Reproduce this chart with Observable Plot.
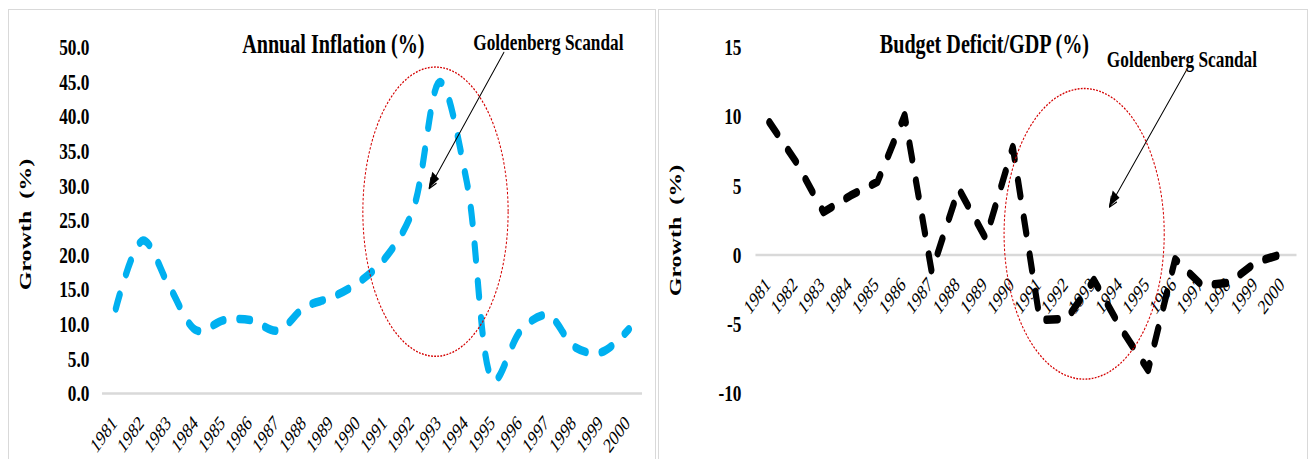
<!DOCTYPE html>
<html><head><meta charset="utf-8">
<script src="https://cdn.jsdelivr.net/npm/d3@7"></script>
<script src="https://cdn.jsdelivr.net/npm/@observablehq/plot@0.6"></script>
<style>
html,body{margin:0;padding:0;background:#fff;overflow:hidden;width:1311px;height:459px;}
.panel{position:absolute;top:9px;height:470px;border:1px solid #d9d9d9;box-sizing:border-box;background:#fff;overflow:hidden;}
.panel svg{display:block;}
</style></head><body>
<div id="left" class="panel" style="left:8px;width:648px"></div>
<div id="right" class="panel" style="left:658px;width:650px"></div>
<script>
// ---- data ----
const years = [1981,1982,1983,1984,1985,1986,1987,1988,1989,1990,1991,1992,1993,1994,1995,1996,1997,1998,1999,2000];
const inflation = [12.3,22.1,15.3,9.1,10.6,10.6,9.1,12.5,13.9,16.1,19.7,26.5,45.0,30.5,1.9,9.1,11.3,6.7,6.0,9.3];
const deficit = [9.6,6.7,3.1,4.3,5.3,10.1,-1.2,4.8,1.2,7.8,-4.7,-4.6,-1.8,-5.3,-8.3,-0.3,-2.2,-2.0,-0.5,0.1];
const inflationTicks = [0,5,10,15,20,25,30,35,40,45,50];
const deficitTicks = [-10,-5,0,5,10,15];
const titles = ["Annual Inflation (%)", "Budget Deficit/GDP (%)"];
const annotationText = "Goldenberg Scandal";
const axisLabel = "Growth  (%)";
// annotation anchors in data space
const inflArrow = [{x1: 1995.37, y1: 49.3, x2: 1992.6, y2: 29.6}];
const defArrow = [{x1: 1996.4, y1: 13.3, x2: 1993.57, y2: 3.46}];
const inflEllipse = {year: 1992.85, value: 26.2, rYears: 2.69, rValue: 20.9};
const defEllipse = {year: 1992.65, value: 1.5, rYears: 2.96, rValue: 10.5};

const S = 0.72; // horizontal compression of the reference picture
const FONT = "'Liberation Serif', 'Times New Roman', serif";

function build(cfg) {
  const W = cfg.realWidth / S, H = 450;
  const rows = years.map((y, i) => ({year: y, value: cfg.values[i]}));
  const frameCenter = (cfg.ml + (W - cfg.mr)) / 2;
  const plot = Plot.plot({
    width: W, height: H,
    marginLeft: cfg.ml, marginRight: cfg.mr, marginTop: 37, marginBottom: 67,
    x: {type: "linear", domain: [1980.5, 2000.5], axis: null},
    y: {domain: cfg.yDomain, axis: null},
    style: {fontFamily: FONT, background: "white", whiteSpace: "pre", color: "black", overflow: "visible"},
    marks: [
      Plot.ruleY([0], {stroke: "#d9d9d9", strokeWidth: 2.5}),
      Plot.text(cfg.yTicks, {y: d => d, text: cfg.fmt, frameAnchor: "left", textAnchor: "end", dx: -cfg.tickDx, fontSize: 24, fontWeight: "bold", fill: "black"}),
      Plot.text(years, {x: d => d, y: 0, text: d => String(d), rotate: -45, textAnchor: "end", dx: -2, dy: 26, fontSize: 21, fill: "black"}),
      Plot.line(rows, {x: "year", y: "value", stroke: cfg.color, strokeWidth: cfg.sw, strokeDasharray: cfg.dash, strokeLinecap: "round", strokeLinejoin: "round", curve: cfg.curve}),
      Plot.text([cfg.title], {frameAnchor: "top", textAnchor: "middle", lineAnchor: "middle", dx: cfg.titleDx - frameCenter, dy: -3, fontSize: 28, fontWeight: "bold", fill: "black"}),
      Plot.text([annotationText], {frameAnchor: "top", textAnchor: "middle", lineAnchor: "middle", dx: cfg.annDx - frameCenter, dy: cfg.annDy, fontSize: 24, fontWeight: "bold", fill: "black"}),
      Plot.text([axisLabel], {frameAnchor: "left", textAnchor: "middle", lineAnchor: "middle", rotate: -90, dx: cfg.labelX - cfg.ml, dy: cfg.labelDy, fontSize: 24, fontWeight: "bold", fill: "black"}),
      Plot.arrow(cfg.arrow, {x1: "x1", y1: "y1", x2: "x2", y2: "y2", stroke: "black", strokeWidth: 1.3, headLength: 13, headAngle: 50})
    ]
  });
  // ellipse annotation drawn through the plot's scales
  const xs = plot.scale("x"), ys = plot.scale("y");
  const e = cfg.ellipse;
  const cx = xs.apply(e.year), cy = ys.apply(e.value);
  const rx = xs.apply(e.year + e.rYears) - cx, ry = cy - ys.apply(e.value + e.rValue);
  d3.select(plot).append("ellipse")
    .attr("cx", cx).attr("cy", cy).attr("rx", rx).attr("ry", ry)
    .attr("fill", "none").attr("stroke", "#d40000").attr("stroke-width", 1.4)
    .attr("stroke-dasharray", "2.5,1.8");
  // filled arrowhead at the arrow tip, oriented along the arrow in screen space
  const a = cfg.arrow[0];
  const tx = xs.apply(a.x2), ty = ys.apply(a.y2), sx = xs.apply(a.x1), sy = ys.apply(a.y1);
  const ang = Math.atan2(ty - sy, tx - sx);
  const L = 16, hw = 6;
  const bx = tx - L * Math.cos(ang), by = ty - L * Math.sin(ang);
  const px = -Math.sin(ang) * hw, py = Math.cos(ang) * hw;
  d3.select(plot).append("path")
    .attr("d", `M${tx},${ty}L${bx + px},${by + py}L${bx - px},${by - py}Z`)
    .attr("fill", "black");
  // compress horizontally like the reference image
  plot.setAttribute("width", cfg.realWidth);
  plot.setAttribute("height", H);
  plot.setAttribute("preserveAspectRatio", "none");
  plot.style.width = cfg.realWidth + "px";
  plot.style.height = H + "px";
  plot.style.maxWidth = "none";
  document.getElementById(cfg.el).appendChild(plot);
}

build({
  el: "left", realWidth: 646, values: inflation, color: "#00b0f0",
  yDomain: [0, 50], yTicks: inflationTicks, fmt: d => d.toFixed(1),
  ml: 129.2, mr: 18, tickDx: 18,
  title: titles[0], titleDx: 450, annDx: 748.6, annDy: -5,
  labelX: 22.2, labelDy: 4,
  arrow: inflArrow, ellipse: inflEllipse,
  curve: "catmull-rom", dash: "15,22", sw: 8.5
});
build({
  el: "right", realWidth: 648, values: deficit, color: "#000000",
  yDomain: [-10, 15], yTicks: deficitTicks, fmt: d => String(d),
  ml: 134, mr: 14.6, tickDx: 20,
  title: titles[1], titleDx: 451.4, annDx: 725.8, annDy: 12,
  labelX: 22.2, labelDy: 10,
  arrow: defArrow, ellipse: defEllipse,
  curve: "linear", dash: "16,22", sw: 8.5
});
</script>
</body></html>
